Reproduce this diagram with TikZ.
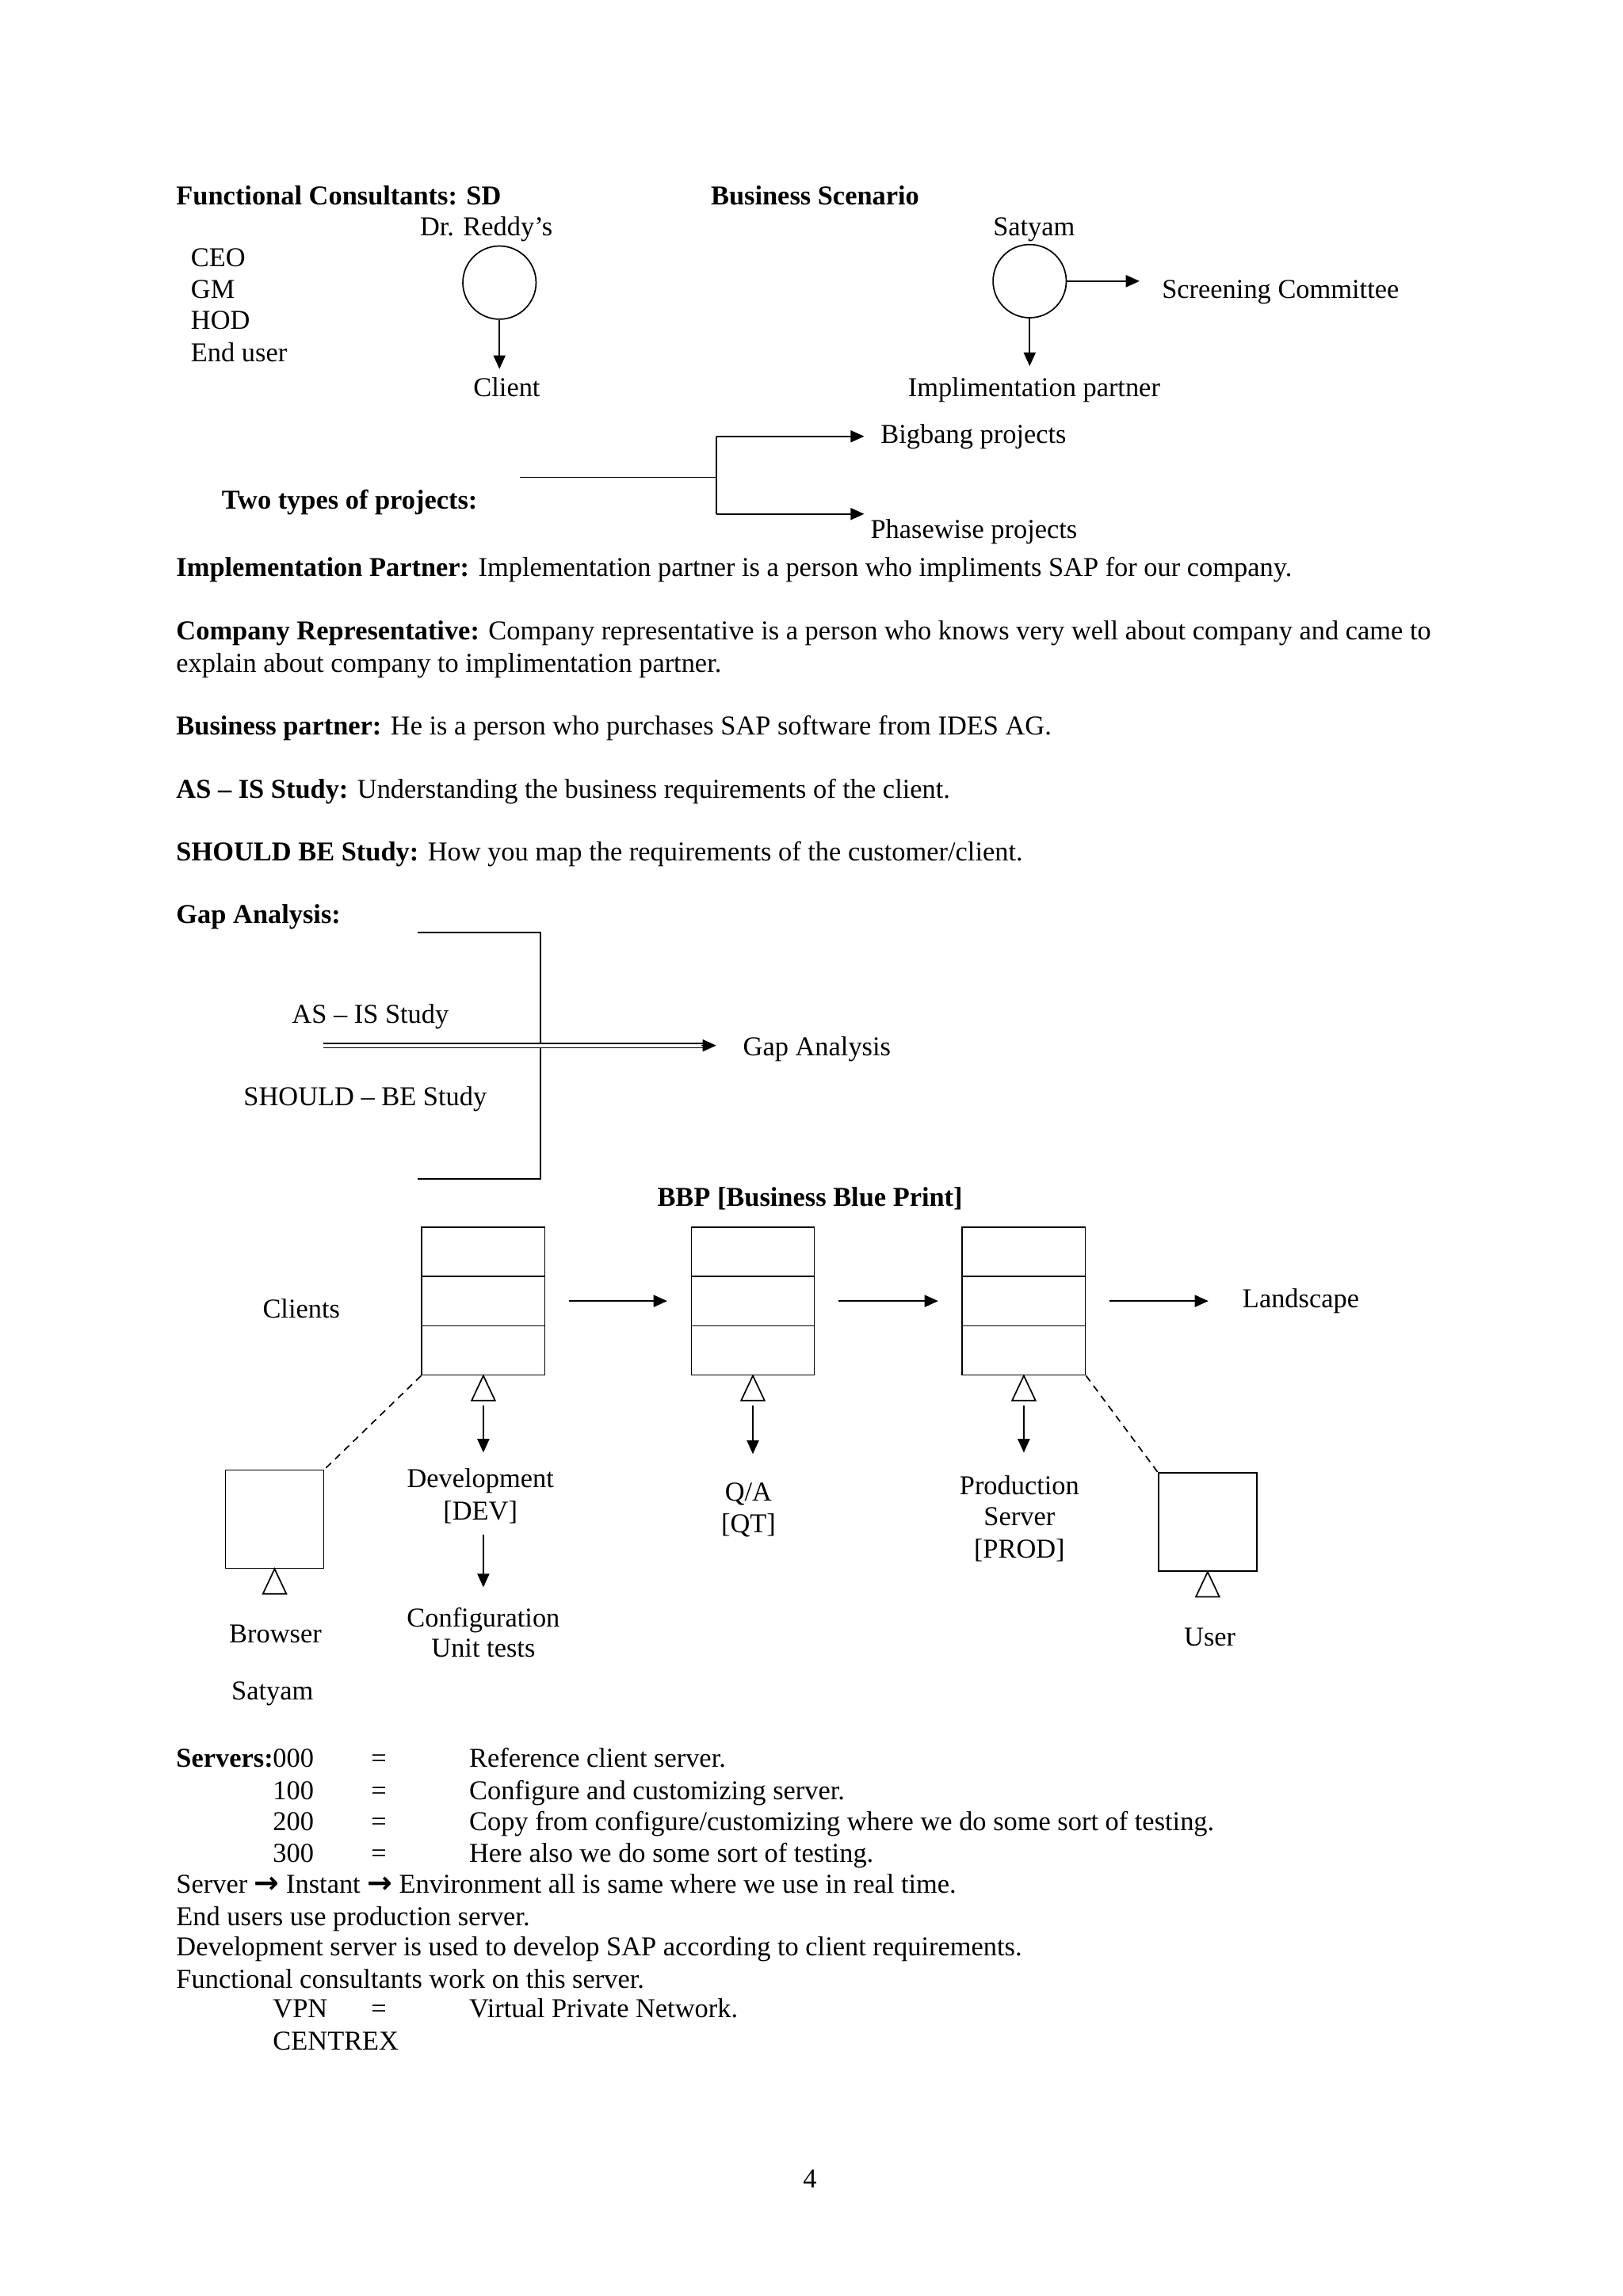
\documentclass[tikz,border=0pt]{standalone}
\usepackage{fontspec}
\setmainfont{Liberation Serif}
\newfontfamily\arrowfont{DejaVu Sans}
\usetikzlibrary{arrows.meta,calc}
\begin{document}
\begin{tikzpicture}[x=0.53727pt,y=-0.53727pt,
  every node/.style={inner sep=0pt, font=\fontsize{10pt}{11.5pt}\selectfont},
  tl/.style={anchor=base west, yshift=-1pt},
  tc/.style={anchor=base, yshift=-1pt},
  ln/.style={line width=0.5pt},
  arr/.style={ln,-{Triangle[length=5pt,width=4.4pt]}},
  dsh/.style={ln, dash pattern=on 2.6pt off 2pt},
  stack/.style={draw, ln, minimum width=45.13pt, minimum height=54.27pt},
  term/.style={draw, ln, minimum width=36pt, minimum height=36pt},
  ring/.style={draw, ln, circle, minimum size=26.86pt},
]
\fill[white] (0,0) rectangle (1108,1568);
\useasboundingbox (0,0) rectangle (1108,1568);

% ---------- header ----------
\node[tl] (fc) at (120,138) {\textbf{Functional Consultants: SD}};
\node[tl] (bs) at (485,138) {\textbf{Business Scenario}};
\node[tc] (dr) at (332,159) {Dr. Reddy’s};
\node[tl] (ceo) at (130,180) {CEO};
\node[tl] (gm) at (130,202) {GM};
\node[tl] (hod) at (130,223) {HOD};
\node[tl] (eu) at (130,245) {End user};
\node[ring] (rc) at (341,193) {};
\coordinate (clienttip) at (341,252);
\draw[arr] (rc.south) -- (clienttip);
\node[tc] (client) at (346,269) {Client};

\node[tc] (sat) at (706,159) {Satyam};
\node[ring] (sc) at (703,192) {};
\coordinate (scrtip) at (778,192);
\draw[arr] (sc.east) -- (scrtip);
\node[tl] (scr) at (793,202) {Screening Committee};
\coordinate (imptip) at (703,250);
\draw[arr] (sc.south) -- (imptip);
\node[tc] (imp) at (706,269) {Implimentation partner};

% ---------- two types ----------
\coordinate (tp0) at (355,326);
\coordinate (tpj) at (489,326);
\coordinate (tpt) at (489,298);
\coordinate (tpb) at (489,351);
\coordinate (bigtip) at (590,298);
\coordinate (phtip) at (590,351);
\draw[ln] (tp0) -- (tpj);
\draw[ln] (tpt) -- (tpb);
\draw[arr] (tpt) -- (bigtip);
\draw[arr] (tpb) -- (phtip);
\node[tl] (big) at (601,301) {Bigbang projects};
\node[tl] (two) at (151,346) {\textbf{Two types of projects:}};
\node[tl] (ph) at (594,366) {Phasewise projects};

% ---------- paragraphs ----------
\node[tl] (p1) at (120,392) {\textbf{Implementation Partner:} Implementation partner is a person who impliments SAP for our company.};
\node[tl] (p2) at (120,435) {\textbf{Company Representative:} Company representative is a person who knows very well about company and came to};
\node[tl] (p2b) at (120,457) {explain about company to implimentation partner.};
\node[tl] (p3) at (120,500) {\textbf{Business partner:} He is a person who purchases SAP software from IDES AG.};
\node[tl] (p4) at (120,543) {\textbf{AS – IS Study:} Understanding the business requirements of the client.};
\node[tl] (p5) at (120,586) {\textbf{SHOULD BE Study:} How you map the requirements of the customer/client.};
\node[tl] (p6) at (120,629) {\textbf{Gap Analysis:}};

% ---------- gap analysis ----------
\coordinate (g1) at (285,637);
\coordinate (g2) at (369,637);
\coordinate (g3) at (369,805);
\coordinate (g4) at (285,805);
\draw[ln] (g1) -- (g2) -- (g3) -- (g4);
\coordinate (gs) at (221,714);
\coordinate (gm1) at (482,714);
\coordinate (gm0) at (479,714);
\coordinate (ge) at (489,714);
\draw[line width=0.45pt, double, double distance=1.1pt] (gs) -- (gm1);
\draw[arr] (gm0) -- (ge);
\node[tl] (asis) at (199,697) {AS – IS Study};
\node[tl] (gap) at (507,719) {Gap Analysis};
\node[tl] (shbe) at (166,753) {SHOULD – BE Study};

% ---------- BBP ----------
\node[tc] (bbp) at (553,822) {\textbf{BBP [Business Blue Print]}};
\node[stack] (s1) at (330,888.5) {};
\node[stack] (s2) at (514,888.5) {};
\node[stack] (s3) at (699,888.5) {};
\foreach \s in {s1,s2,s3}{
  \draw[ln] ($(\s.north west)!1/3!(\s.south west)$) -- ($(\s.north east)!1/3!(\s.south east)$);
  \draw[ln] ($(\s.north west)!2/3!(\s.south west)$) -- ($(\s.north east)!2/3!(\s.south east)$);
  \draw[ln] (\s.south) -- ++(-8,17) -- ++(16,0) -- cycle;
}
\draw[arr] ([xshift=8.6pt]s1.east) -- ([xshift=-8.6pt]s2.west);
\draw[arr] ([xshift=8.6pt]s2.east) -- ([xshift=-8.6pt]s3.west);
\coordinate (landtip) at (825,888.5);
\draw[arr] ([xshift=8.6pt]s3.east) -- (landtip);
\node[tl] (land) at (848,891) {Landscape};
\node[tl] (cl) at (179,898) {Clients};

\coordinate (a1s) at (330,960);
\coordinate (a1e) at (330,992);
\coordinate (a2s) at (514,960);
\coordinate (a2e) at (514,993);
\coordinate (a3s) at (699,960);
\coordinate (a3e) at (699,992);
\draw[arr] (a1s) -- (a1e);
\draw[arr] (a2s) -- (a2e);
\draw[arr] (a3s) -- (a3e);

\node[term] (br) at (187.5,1037.5) {};
\node[term] (us) at (824.5,1039.5) {};
\draw[ln] (br.south) -- ++(-8,17) -- ++(16,0) -- cycle;
\draw[ln] (us.south) -- ++(-8,17) -- ++(16,0) -- cycle;
\draw[dsh] (s1.south west) -- (br.north east);
\draw[dsh] (s3.south east) -- (us.north west);

\node[tc] (dev) at (328,1014) {Development};
\node[tc] (devb) at (328,1036) {[DEV]};
\coordinate (a4s) at (330,1048);
\coordinate (a4e) at (330,1084);
\draw[arr] (a4s) -- (a4e);
\node[tc] (conf) at (330,1109) {Configuration};
\node[tc] (unit) at (330,1130) {Unit tests};
\node[tc] (qa) at (511,1023) {Q/A};
\node[tc] (qt) at (511,1045) {[QT]};
\node[tc] (prod) at (696,1019) {Production};
\node[tc] (prods) at (696,1040) {Server};
\node[tc] (prodb) at (696,1062) {[PROD]};
\node[tc] (brl) at (188,1120) {Browser};
\node[tc] (usl) at (826,1122) {User};
\node[tc] (sat2) at (186,1159) {Satyam};

% ---------- servers ----------
\node[tl] (sv) at (120,1205) {\textbf{Servers:}};
\node[tl] (n0) at (186,1205) {000};
\node[tl] (n1) at (186,1227) {100};
\node[tl] (n2) at (186,1248) {200};
\node[tl] (n3) at (186,1270) {300};
\foreach \yy in {1205,1227,1248,1270,1376}{\node[tl] at (253,\yy) {=};}
\node[tl] (d0) at (320,1205) {Reference client server.};
\node[tl] (d1) at (320,1227) {Configure and customizing server.};
\node[tl] (d2) at (320,1248) {Copy from configure/customizing where we do some sort of testing.};
\node[tl] (d3) at (320,1270) {Here also we do some sort of testing.};
\node[tl] (l1) at (120,1291) {Server {\arrowfont\bfseries\fontsize{11pt}{11.5pt}\selectfont →} Instant {\arrowfont\bfseries\fontsize{11pt}{11.5pt}\selectfont →} Environment all is same where we use in real time.};
\node[tl] (l2) at (120,1313) {End users use production server.};
\node[tl] (l3) at (120,1334) {Development server is used to develop SAP according to client requirements.};
\node[tl] (l4) at (120,1356) {Functional consultants work on this server.};
\node[tl] (vpn) at (186,1376) {VPN};
\node[tl] (vpnd) at (320,1376) {Virtual Private Network.};
\node[tl] (cen) at (186,1398) {CENTREX};
\node[tc] (pg) at (553,1492) {4};
\end{tikzpicture}
\end{document}
